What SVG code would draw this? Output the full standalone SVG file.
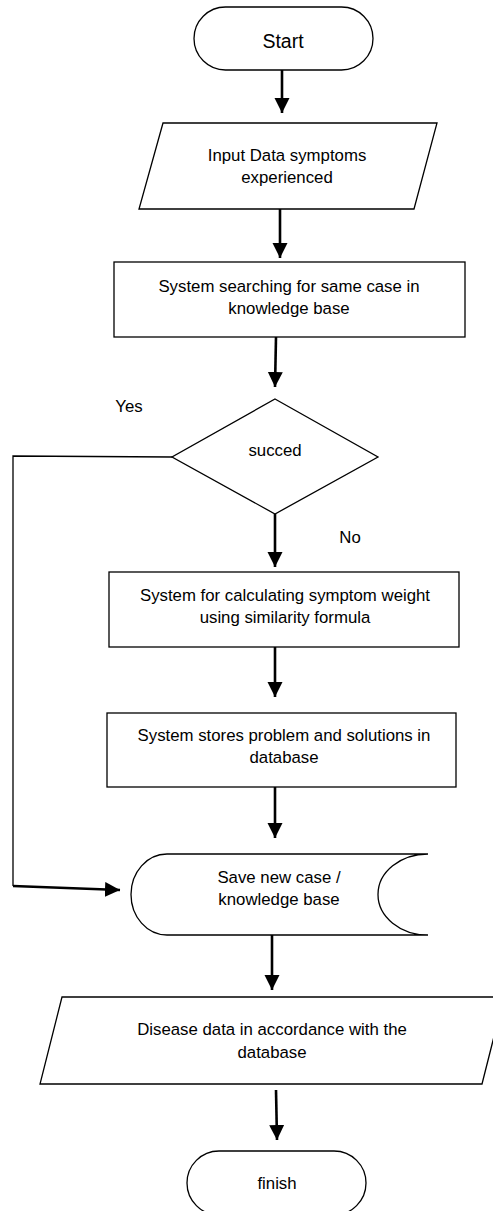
<svg xmlns="http://www.w3.org/2000/svg" width="493" height="1211" viewBox="0 0 493 1211">
<style>
.shape{fill:#fff;stroke:#000;stroke-width:1.3}
.t{font-family:"Liberation Sans",Arial,sans-serif;font-size:16.8px;fill:#000;text-anchor:middle}
.big{font-size:19.5px}
.c{fill:none;stroke:#000;stroke-width:2.6}
.thin{fill:none;stroke:#000;stroke-width:1.3}
</style>
<defs>
<marker id="ah" markerUnits="userSpaceOnUse" markerWidth="16" markerHeight="16" refX="15" refY="7.5" orient="auto">
<path d="M0,0 L15,7.5 L0,15 z" fill="#000"/>
</marker>
</defs>
<rect width="493" height="1211" fill="#fff"/>
<g id="start">
<rect class="shape" x="194" y="7" width="179" height="63" rx="31.5" ry="31.5"/>
<text class="t big" x="283" y="48">Start</text>
</g>
<g id="input">
<polygon class="shape" points="163,123 437,123 414,209 139,209"/>
<text class="t" x="287" y="161">Input Data symptoms</text>
<text class="t" x="287" y="183">experienced</text>
</g>
<g id="search">
<rect class="shape" x="114" y="262" width="351" height="75"/>
<text class="t" x="289" y="292">System searching for same case in</text>
<text class="t" x="289" y="314">knowledge base</text>
</g>
<g id="decision">
<polygon class="shape" points="275,399 378,457 275,514 172,457"/>
<text class="t" x="275" y="456">succed</text>
</g>
<g id="calc">
<rect class="shape" x="109" y="572" width="350" height="75"/>
<text class="t" x="285" y="601">System for calculating symptom weight</text>
<text class="t" x="285" y="623">using similarity formula</text>
</g>
<g id="stores">
<rect class="shape" x="107" y="713" width="349" height="74"/>
<text class="t" x="284" y="741">System stores problem and solutions in</text>
<text class="t" x="284" y="763">database</text>
</g>
<g id="save">
<path class="shape" d="M428,854 L167,854 A36,40.5 0 0 0 167,935 L428,935 A50,40.5 0 0 1 428,854"/>
<text class="t" x="279" y="883">Save new case /</text>
<text class="t" x="279" y="905">knowledge base</text>
</g>
<g id="output">
<polygon class="shape" points="62,997 504,997 482,1084 40,1084"/>
<text class="t" x="272" y="1035">Disease data in accordance with the</text>
<text class="t" x="272" y="1058">database</text>
</g>
<g id="finish">
<rect class="shape" x="187" y="1151" width="179" height="64" rx="32" ry="32"/>
<text class="t" x="277" y="1189">finish</text>
</g>
<g id="labels">
<text class="t" x="129" y="412">Yes</text>
<text class="t" x="350" y="543">No</text>
</g>
<g id="connectors">
<line class="c" x1="282" y1="70" x2="282" y2="113" marker-end="url(#ah)"/>
<line class="c" x1="280" y1="209" x2="280" y2="258" marker-end="url(#ah)"/>
<line class="c" x1="276" y1="337" x2="275" y2="387" marker-end="url(#ah)"/>
<line class="c" x1="275" y1="514" x2="275" y2="567" marker-end="url(#ah)"/>
<line class="c" x1="275" y1="647" x2="275" y2="697" marker-end="url(#ah)"/>
<line class="c" x1="275" y1="787" x2="275" y2="838" marker-end="url(#ah)"/>
<line class="c" x1="272" y1="935" x2="272" y2="990" marker-end="url(#ah)"/>
<line class="c" x1="276" y1="1090" x2="277" y2="1140" marker-end="url(#ah)"/>
<polyline class="thin" points="172,457 13,456 13,886"/>
<line class="c" x1="13" y1="886" x2="120" y2="890" marker-end="url(#ah)"/>
</g>
</svg>
